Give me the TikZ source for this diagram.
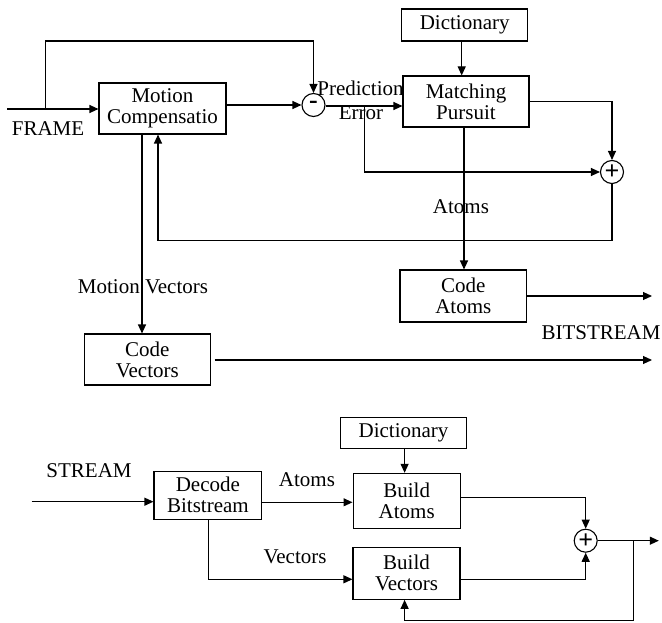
\documentclass[tikz,border=0pt]{standalone}
\usepackage{fontspec}
\setmainfont{Liberation Serif}
\usetikzlibrary{arrows.meta}
\begin{document}
\begin{tikzpicture}[x=1pt,y=-1pt, line width=1.1pt,
  blk/.style={draw, align=center, inner sep=0pt, font=\fontsize{21}{21}\selectfont},
  sumnode/.style={draw, circle, minimum size=23pt, inner sep=0pt, font=\fontsize{26}{26}\selectfont\bfseries},
  lbl/.style={font=\fontsize{21}{21}\selectfont, inner sep=0pt},
  arr/.style={-{Triangle[length=9pt,width=8pt]}}]
\useasboundingbox (0,0) rectangle (662,623);

% ---------- encoder ----------
\node[blk, minimum width=127, minimum height=51] (mc) at (162.5,108.5) {Motion\\Compensatio};
\node[sumnode] (mi) at (313.5,105) {\raisebox{1pt}{-}};
\node[blk, minimum width=126, minimum height=32] (dict) at (464.7,25) {Dictionary};
\node[blk, minimum width=126, minimum height=51] (mp) at (466,101.5) {Matching\\Pursuit};
\node[sumnode] (pl) at (612,172) {+};
\node[blk, minimum width=126.6, minimum height=52] (ca) at (463.3,296) {Code\\Atoms};
\node[blk, minimum width=125.5, minimum height=51] (cv) at (147.3,359.5) {Code\\Vectors};

\coordinate (in1) at (7,109);
\coordinate (sp1) at (45.7,109);
\coordinate (sp2) at (364.3,106);
\coordinate (fb) at (612,240.7);
\coordinate (outa) at (652,296);
\coordinate (outv) at (652,360);

\node[lbl] (frame) at (48,129) {FRAME};
\node[lbl, anchor=base] (pred) at (360.5,96) {Prediction};
\node[lbl, anchor=base] (err) at (361,120) {Error};
\node[lbl] (atl) at (461,207) {Atoms};
\node[lbl] (mvl) at (143,287) {Motion Vectors};
\node[lbl] (bsl) at (601,333) {BITSTREAM};

\draw[arr] (in1) -- (mc.west |- in1);
\draw[arr] (sp1) -- (45.7,41) -| (mi.north);
\draw[arr] (mc.east |- mi) -- (mi.west);
\draw[arr] (mi.east |- sp2) -- (mp.west |- sp2);
\draw[arr] (dict.south -| 461.7,0) -- (mp.north -| 461.7,0);
\draw[arr] (sp2) |- (pl.west);
\draw[arr] (mp.east |- 0,101.7) -| (pl.north);
\draw[arr] (pl.south) -- (fb) -| (mc.south -| 158,0);
\draw[arr] (mp.south -| 464,0) -- (ca.north -| 464,0);
\draw[arr] (mc.south -| 142,0) -- (cv.north -| 142,0);
\draw[arr] (ca.east |- outa) -- (outa);
\coordinate (cvo) at (214.5,360);
\draw[arr] (cvo) -- (outv);

% ---------- decoder ----------
\node[blk, minimum width=125.4, minimum height=31] (dict2) at (403.5,432.8) {Dictionary};
\node[blk, minimum width=107.3, minimum height=54.7] (ba) at (406.7,500.7) {Build\\Atoms};
\node[blk, minimum width=107.8, minimum height=47.7] (db) at (207.9,495.2) {Decode\\Bitstream};
\node[blk, minimum width=107, minimum height=52] (bv) at (406.5,573.3) {Build\\Vectors};
\node[sumnode] (pl2) at (585.7,540.7) {+};

\coordinate (in2) at (31.7,501.7);
\coordinate (out2) at (658.8,540.7);
\coordinate (br2) at (633.5,540.7);

\node[lbl] (streaml) at (89,471) {STREAM};
\node[lbl] (atl2) at (307,480) {Atoms};
\node[lbl] (vcl2) at (295,556.7) {Vectors};

\draw[arr] (in2) -- (db.west |- in2);
\draw[arr] (db.east |- 0,502.3) -- (ba.west |- 0,502.3);
\draw[arr] (dict2.south -| 404.6,0) -- (ba.north -| 404.6,0);
\draw[arr] (db.south -| 208.2,0) |- (bv.west |- 0,579.3);
\draw[arr] (ba.east |- 0,497.3) -| (pl2.north);
\draw[arr] (bv.east |- 0,579.3) -| (pl2.south);
\draw[arr] (pl2.east) -- (out2);
\draw[arr] (br2) -- (633.5,620.7) -| (bv.south -| 404.6,0);
\end{tikzpicture}
\end{document}
